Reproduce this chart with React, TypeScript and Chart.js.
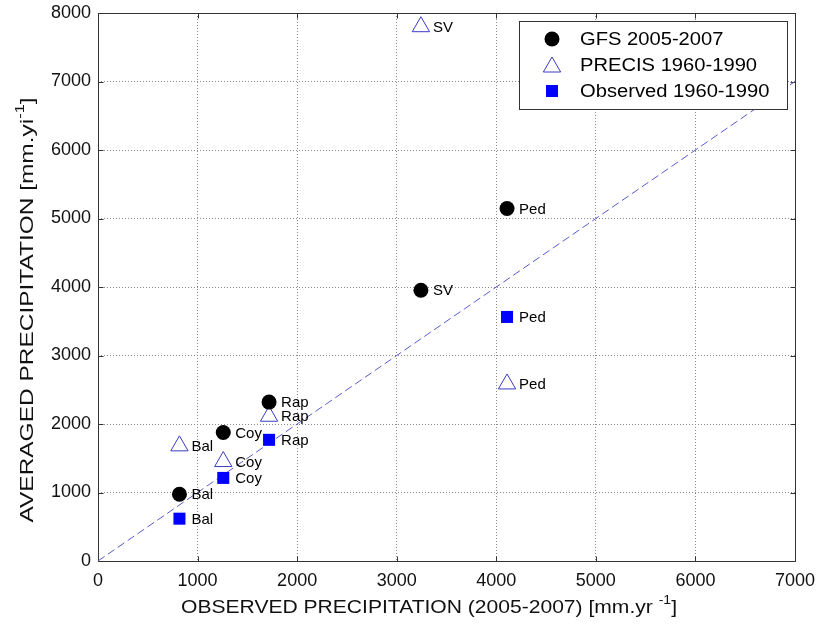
import React, { useEffect, useRef } from 'react';
import { Chart, registerables } from 'chart.js';
Chart.register(...registerables);

// ---- data ----
const sites = ['Bal', 'Coy', 'Rap', 'SV', 'Ped'];
const observedX = [818, 1258, 1718, 3243, 4108];
const gfsY = [975, 1876, 2320, 3952, 5146];
const precisY = [1681, 1452, 2113, 7800, 2585];
const obsSites = ['Bal', 'Coy', 'Rap', 'Ped'];
const obsX = [818, 1258, 1718, 4108];
const obs6090Y = [618, 1213, 1769, 3563];
const seriesNames = ['GFS 2005-2007', 'PRECIS 1960-1990', 'Observed 1960-1990'];
const xTicks = [0, 1000, 2000, 3000, 4000, 5000, 6000, 7000];
const yTicks = [0, 1000, 2000, 3000, 4000, 5000, 6000, 7000, 8000];
const oneToOneX = [0, 7000];
const xTitle = ['OBSERVED PRECIPITATION (2005-2007) [mm.yr ', '-1', ']'];
const yTitle = ['AVERAGED PRECIPITATION [mm.yi', '-1', ']'];

const FONT = '"Liberation Sans", Arial, Helvetica, sans-serif';

function drawTitle(ctx: CanvasRenderingContext2D, parts: string[], cx: number, cy: number, target: number, rot: number) {
  ctx.save();
  ctx.translate(cx, cy);
  ctx.rotate(rot);
  const mainF = '18px ' + FONT;
  const supF = '12px ' + FONT;
  ctx.font = mainF;
  const w0 = ctx.measureText(parts[0]).width;
  const w2 = ctx.measureText(parts[2]).width;
  ctx.font = supF;
  const w1 = ctx.measureText(parts[1]).width;
  const total = w0 + w1 + w2;
  const sx = target / total;
  ctx.scale(sx, 1);
  let x = -total / 2;
  ctx.fillStyle = '#111';
  ctx.textBaseline = 'alphabetic';
  ctx.textAlign = 'left';
  ctx.font = mainF;
  ctx.fillText(parts[0], x, 6.5);
  x += w0;
  ctx.font = supF;
  ctx.fillText(parts[1], x, -2);
  x += w1;
  ctx.font = mainF;
  ctx.fillText(parts[2], x, 6.5);
  ctx.restore();
}

const decorPlugin = {
  id: 'decor',
  beforeDatasetsDraw(chart: any) {
    const { ctx, chartArea: a, scales } = chart;
    ctx.save();
    ctx.strokeStyle = '#333';
    ctx.lineWidth = 1;
    const L = Math.round(a.left) + 0.5, R = Math.round(a.right) + 0.5;
    const T = Math.round(a.top) + 0.5, B = Math.round(a.bottom) + 0.5;
    ctx.beginPath();
    ctx.rect(L, T, R - L, B - T);
    const tl = 5;
    xTicks.forEach((v) => {
      const px = Math.round(scales.x.getPixelForValue(v)) + 0.5;
      ctx.moveTo(px, B); ctx.lineTo(px, B - tl);
      ctx.moveTo(px, T); ctx.lineTo(px, T + tl);
    });
    yTicks.forEach((v) => {
      const py = Math.round(scales.y.getPixelForValue(v)) + 0.5;
      ctx.moveTo(L, py); ctx.lineTo(L + tl, py);
      ctx.moveTo(R, py); ctx.lineTo(R - tl, py);
    });
    ctx.stroke();
    ctx.restore();
  },
  afterDatasetsDraw(chart: any) {
    const { ctx } = chart;
    ctx.save();
    ctx.font = '15px ' + FONT;
    ctx.fillStyle = '#000';
    ctx.textAlign = 'left';
    ctx.textBaseline = 'middle';
    chart.data.datasets.forEach((ds: any, i: number) => {
      if (!ds.names) return;
      const meta = chart.getDatasetMeta(i);
      meta.data.forEach((pt: any, j: number) => {
        ctx.fillText(ds.names[j], pt.x + 12, pt.y + 1);
      });
    });
    ctx.restore();
  },
  afterDraw(chart: any) {
    const { ctx } = chart;
    ctx.save();
    const bx = 519.5, by = 21.5, bw = 268, bh = 88;
    ctx.fillStyle = '#fff';
    ctx.fillRect(bx, by, bw, bh);
    ctx.strokeStyle = '#333';
    ctx.lineWidth = 1;
    ctx.strokeRect(bx, by, bw, bh);
    const rows = [39, 65, 91];
    const mx = 552;
    ctx.font = '18px ' + FONT;
    ctx.textBaseline = 'middle';
    ctx.textAlign = 'left';
    seriesNames.forEach((name, i) => {
      const y = rows[i];
      const ds = chart.data.datasets[i];
      ctx.save();
      if (i === 0) {
        ctx.fillStyle = ds.backgroundColor;
        ctx.beginPath(); ctx.arc(mx, y, 7.5, 0, Math.PI * 2); ctx.fill();
      } else if (i === 1) {
        ctx.strokeStyle = ds.borderColor;
        ctx.lineWidth = 1;
        const r = 10;
        const cy = y + 2;
        ctx.beginPath();
        ctx.moveTo(mx, cy - r);
        ctx.lineTo(mx + r * Math.sin(Math.PI / 3), cy + r / 2);
        ctx.lineTo(mx - r * Math.sin(Math.PI / 3), cy + r / 2);
        ctx.closePath(); ctx.stroke();
      } else {
        ctx.fillStyle = ds.backgroundColor;
        ctx.fillRect(mx - 6, y - 6, 12, 12);
      }
      ctx.restore();
      ctx.fillStyle = '#000';
      ctx.save();
      ctx.translate(580, y + 1);
      ctx.scale(1.12, 1);
      ctx.fillText(name, 0, 0);
      ctx.restore();
    });
    ctx.restore();
    drawTitle(ctx, xTitle, 429, 606, 496, 0);
    drawTitle(ctx, yTitle, 26, 310, 425, -Math.PI / 2);
  },
};

export default function App() {
  const ref = useRef<HTMLCanvasElement>(null);
  useEffect(() => {
    if (!ref.current) return;
    const chart = new Chart(ref.current, {
      type: 'scatter',
      data: {
        datasets: [
          {
            label: seriesNames[0],
            names: sites,
            data: observedX.map((x, i) => ({ x, y: gfsY[i] })),
            pointStyle: 'circle',
            pointRadius: 7.5,
            backgroundColor: '#000',
            borderColor: '#000',
            borderWidth: 0,
            order: 1,
          } as any,
          {
            label: seriesNames[1],
            names: sites,
            data: observedX.map((x, i) => ({ x, y: precisY[i] })),
            pointStyle: 'triangle',
            pointRadius: 10,
            backgroundColor: 'rgba(0,0,0,0)',
            borderColor: '#3b3bc4',
            borderWidth: 1,
            order: 1,
          } as any,
          {
            label: seriesNames[2],
            names: obsSites,
            data: obsX.map((x, i) => ({ x, y: obs6090Y[i] })),
            pointStyle: 'rect',
            pointRadius: 8.5,
            backgroundColor: '#0000ff',
            borderColor: '#0000ff',
            borderWidth: 0,
            order: 1,
          } as any,
          {
            type: 'line',
            label: '1:1',
            data: oneToOneX.map((v) => ({ x: v, y: v })),
            borderColor: '#5a5ad0',
            borderWidth: 1,
            borderDash: [8, 4],
            pointRadius: 0,
            fill: false,
            order: 5,
          } as any,
        ],
      },
      options: {
        animation: false,
        responsive: false,
        events: [],
        layout: { padding: { left: 0, right: 21, top: 13, bottom: 0 } },
        plugins: { legend: { display: false }, tooltip: { enabled: false } },
        scales: {
          x: {
            type: 'linear',
            min: 0,
            max: 7000,
            afterBuildTicks: (s: any) => { s.ticks = xTicks.map((v) => ({ value: v })); },
            afterFit: (s: any) => { s.height = 67; s.paddingLeft = 0; s.paddingRight = 0; },
            grid: { color: '#8a8a8a', lineWidth: 1, drawTicks: false, borderDash: [1, 2] } as any,
            border: { display: false, dash: [1, 2] },
            ticks: { padding: 9, color: '#111', font: { family: FONT, size: 18 }, maxRotation: 0, autoSkip: false, callback: (v: any) => String(v) },
          },
          y: {
            type: 'linear',
            min: 0,
            max: 8000,
            afterBuildTicks: (s: any) => { s.ticks = yTicks.map((v) => ({ value: v })); },
            afterFit: (s: any) => { s.width = 98; s.paddingTop = 0; s.paddingBottom = 0; },
            grid: { color: '#8a8a8a', lineWidth: 1, drawTicks: false, borderDash: [1, 2] } as any,
            border: { display: false, dash: [1, 2] },
            ticks: { padding: 7, color: '#111', font: { family: FONT, size: 18 }, autoSkip: false, callback: (v: any) => String(v) },
          },
        },
      },
      plugins: [decorPlugin],
    } as any);
    return () => chart.destroy();
  }, []);
  return (
    <div style={{ position: 'fixed', left: 0, top: 0, width: 816, height: 628, background: '#fff' }}>
      <canvas ref={ref} width={816} height={628} style={{ width: 816, height: 628, display: 'block' }} />
    </div>
  );
}
